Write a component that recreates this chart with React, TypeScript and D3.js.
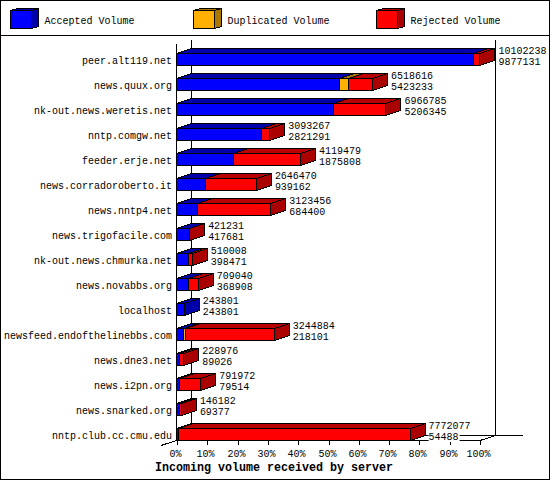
import { useEffect, useRef } from 'react';
import * as d3 from 'd3';

const hosts = [
  'peer.alt119.net', 'news.quux.org', 'nk-out.news.weretis.net', 'nntp.comgw.net',
  'feeder.erje.net', 'news.corradoroberto.it', 'news.nntp4.net', 'news.trigofacile.com',
  'nk-out.news.chmurka.net', 'news.novabbs.org', 'localhost', 'newsfeed.endofthelinebbs.com',
  'news.dne3.net', 'news.i2pn.org', 'news.snarked.org', 'nntp.club.cc.cmu.edu',
];
const totals = [
  10102238, 6518616, 6966785, 3093267, 4119479, 2646470, 3123456, 421231,
  510008, 709040, 243801, 3244884, 228976, 791972, 146182, 7772077,
];
const accepted = [
  9877131, 5423233, 5206345, 2821291, 1875808, 939162, 684400, 417681,
  398471, 368908, 243801, 218101, 89026, 79514, 69377, 54488,
];
const duplicated = [0, 300000, 0, 0, 0, 0, 0, 0, 0, 0, 0, 50000, 0, 0, 0, 0];
const percentTicks = [0, 10, 20, 30, 40, 50, 60, 70, 80, 90, 100];
const legendNames = ['Accepted Volume', 'Duplicated Volume', 'Rejected Volume'];

const WIDTH = 550;
const HEIGHT = 480;
const DX = 15; // 3d depth
const DY = 5;
const FONT = '"Liberation Mono", monospace';
const colors = [
  { front: '#0000ff', top: '#0000aa', side: '#0000aa' },
  { front: '#ffb000', top: '#aa7700', side: '#aa7700' },
  { front: '#ff0000', top: '#b80000', side: '#aa0000' },
];

export default function App() {
  const svgRef = useRef<SVGSVGElement>(null);

  useEffect(() => {
    if (!svgRef.current) return;
    const svg = d3.select(svgRef.current);
    svg.selectAll('*').remove();

    const left = 177, right = 480, top = 40, bottom = 440;
    const x = d3.scaleLinear().domain([0, 100]).range([left, right]);
    const y = d3.scaleBand<string>().domain(hosts).range([top, bottom]);
    const maxTotal = d3.max(totals) as number;
    const pct = (v: number) => (v / maxTotal) * 100;

    const line = (x1: number, y1: number, x2: number, y2: number) =>
      svg.append('line')
        .attr('x1', x1).attr('y1', y1).attr('x2', x2).attr('y2', y2)
        .attr('stroke', '#000').attr('stroke-width', 1)
        .attr('shape-rendering', 'crispEdges');

    // squeezed so the glyphs keep the 6px cell of the original bitmap font
    const label = (s: string, tx: number, ty: number, anchor = 'start') =>
      svg.append('text')
        .attr('x', tx).attr('y', ty)
        .attr('text-anchor', anchor)
        .attr('font-family', FONT).attr('font-size', 11.5)
        .attr('textLength', s.length * 6).attr('lengthAdjust', 'spacingAndGlyphs')
        .text(s);

    const box = (x0: number, x1: number, y0: number, h: number, dx: number, dy: number, c: typeof colors[0]) => {
      const poly = (pts: number[][], fill: string) =>
        svg.append('polygon')
          .attr('points', pts.map(p => p.join(',')).join(' '))
          .attr('fill', fill).attr('stroke', '#000')
          .attr('shape-rendering', 'crispEdges');
      poly([[x0, y0], [x0 + dx, y0 - dy], [x1 + dx, y0 - dy], [x1, y0]], c.top);
      poly([[x1, y0], [x1 + dx, y0 - dy], [x1 + dx, y0 + h - dy], [x1, y0 + h]], c.side);
      svg.append('rect')
        .attr('x', x0).attr('y', y0).attr('width', x1 - x0).attr('height', h)
        .attr('fill', c.front).attr('stroke', '#000')
        .attr('shape-rendering', 'crispEdges');
    };

    // background + frame
    svg.append('rect')
      .attr('x', 0.5).attr('y', 0.5).attr('width', WIDTH - 1).attr('height', HEIGHT - 1)
      .attr('fill', '#fff').attr('stroke', '#000').attr('stroke-width', 1);
    line(0, 35.5, WIDTH, 35.5);

    // legend
    const legendX = [10.5, 193.5, 376.5];
    legendNames.forEach((name, i) => {
      box(legendX[i], legendX[i] + 21, 10.5, 18, 7, 2, colors[i]);
      label(name, legendX[i] + 34, 24);
    });

    // walls
    line(left + DX - 0.5, top, left + DX - 0.5, bottom - DY + 0.5);
    line(right + DX + 0.5, top, right + DX + 0.5, bottom - DY + 0.5);
    line(left - 0.5, top + DY - 1, left - 0.5, bottom + 0.5);
    line(left + DX - 0.5, bottom - DY + 0.5, 523, bottom - DY + 0.5);
    line(left - 16, bottom + 5.5, left + DX - 0.5, bottom - DY + 0.5);
    line(left - 0.5, bottom + 0.5, right, bottom + 0.5);
    line(right, bottom + 0.5, right + DX + 0.5, bottom - DY + 0.5);

    // axis ticks
    percentTicks.forEach(t => {
      const tx = Math.round(x(t)) + 0.5;
      line(tx, bottom, tx, bottom + 5);
      label(`${t}%`, tx - 2, 457, 'middle');
    });

    // rows
    hosts.forEach((host, i) => {
      const band = y(host) as number;
      const y0 = band + 13.5;
      const rejected = totals[i] - accepted[i] - duplicated[i];
      let cum = 0;
      [accepted[i], duplicated[i], rejected].forEach((v, k) => {
        if (v <= 0) return;
        const x0 = Math.ceil(x(pct(cum))) - 0.5;
        cum += v;
        const x1 = Math.ceil(x(pct(cum))) - 0.5;
        box(x0, x1, y0, 12, DX, DY, colors[k]);
      });

      label(host, left - 5, band + 24, 'end');

      const lx = x(pct(totals[i])) + DX + 3.5;
      [totals[i], accepted[i]].forEach((v, k) => {
        const ly = band + 14 + k * 11;
        const s = String(v);
        svg.append('rect')
          .attr('x', lx).attr('y', ly - 8).attr('width', s.length * 6 + 1).attr('height', 10)
          .attr('fill', '#fff');
        label(s, lx, ly);
      });
    });

    svg.append('text')
      .attr('x', 274).attr('y', 471)
      .attr('text-anchor', 'middle')
      .attr('font-family', FONT).attr('font-size', 12.5).attr('font-weight', 'bold')
      .attr('textLength', 238).attr('lengthAdjust', 'spacingAndGlyphs')
      .text('Incoming volume received by server');
  }, []);

  return (
    <svg
      ref={svgRef}
      width={WIDTH}
      height={HEIGHT}
      style={{ position: 'absolute', left: 0, top: 0 }}
    />
  );
}
